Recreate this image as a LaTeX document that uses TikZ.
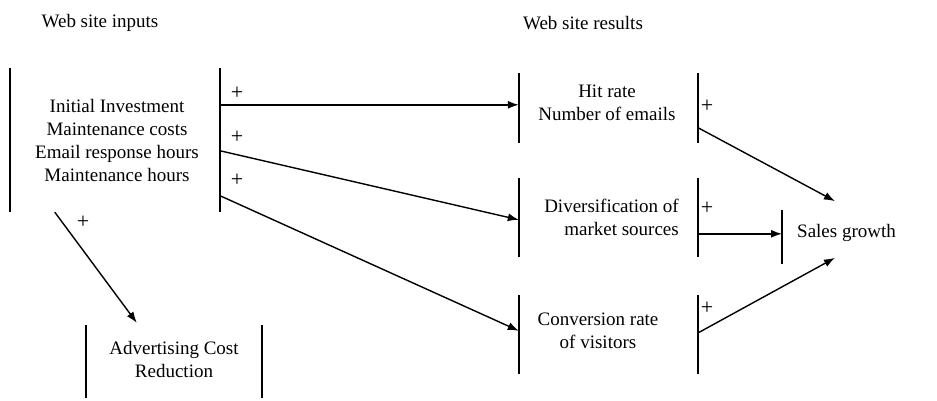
\documentclass[tikz,border=0pt]{standalone}
\usepackage{fontspec}
\setmainfont{Liberation Serif}
\usetikzlibrary{arrows.meta,calc}
\begin{document}
\begin{tikzpicture}[x=1pt,y=-1pt,
  txt/.style={inner sep=0pt,align=center,font=\fontsize{19}{23}\selectfont},
  plus/.style={inner sep=0pt,font=\fontsize{22}{24}\selectfont},
  frame/.style={draw=none,inner sep=0pt,rectangle},
  bar/.style={line width=1.9pt},
  arr/.style={line width=1.4pt,-{Latex[length=11pt,width=8pt]}}]
\useasboundingbox (0,0) rectangle (937,400);
% headings
\node[txt] (h1) at (100,23) {Web site inputs};
\node[txt] (h2) at (583,23) {Web site results};
% frames
\node[frame,minimum width=210pt,minimum height=144pt] (inF) at (115,140) {};
\node[frame,minimum width=179pt,minimum height=70pt] (hitF) at (608.5,108) {};
\node[frame,minimum width=179pt,minimum height=79pt] (divF) at (608.5,217.5) {};
\node[frame,minimum width=179pt,minimum height=79pt] (conF) at (608.5,334.5) {};
\node[frame,minimum width=176pt,minimum height=73pt] (advF) at (174,361.5) {};
\node[frame,minimum width=2pt,minimum height=54pt] (salF) at (782,237) {};
% bars
\foreach \n in {inF,hitF,divF,conF,advF}{
  \draw[bar] (\n.north west) -- (\n.south west);
  \draw[bar] (\n.north east) -- (\n.south east);
}
\draw[bar] (salF.north) -- (salF.south);
% texts
\node[txt] (in) at (117,140) {Initial Investment\\Maintenance costs\\Email response hours\\Maintenance hours};
\node[txt] (hit) at (607,102.5) {Hit rate\\Number of emails};
\node[txt,align=right,anchor=east] (div) at (679,217.5) {Diversification of\\market sources};
\node[txt] (con) at (598,331) {Conversion rate\\of visitors};
\node[txt] (adv) at (174,359) {Advertising Cost\\Reduction};
\node[txt,anchor=west] (sal) at (797,233) {Sales growth};
% plus signs
\node[plus] (p1) at (237,93) {+};
\node[plus] (p2) at (237,137) {+};
\node[plus] (p3) at (237,180) {+};
\node[plus] (p4) at (707,106) {+};
\node[plus] (p5) at (707,208) {+};
\node[plus] (p6) at (707,308) {+};
\node[plus] (p7) at (83,222) {+};
% arrows
\draw[arr] ($(inF.north east)+(0,37)$) -- ($(hitF.north west)+(0,32)$);
\draw[arr] ($(inF.north east)+(0,83)$) -- ($(divF.north west)+(0,42)$);
\draw[arr] ($(inF.north east)+(0,128)$) -- ($(conF.north west)+(0,36)$);
\draw[arr] ($(hitF.north east)+(0,55)$) -- ($(sal.north west)+(38,-23)$);
\draw[arr] ($(divF.north east)+(0,56)$) -- ($(salF.north)+(0,24)$);
\draw[arr] ($(conF.north east)+(0,38)$) -- ($(sal.south west)+(38,16)$);
\draw[arr] ($(inF.south west)+(45,0)$) -- ($(advF.north west)+(51,-2)$);
\end{tikzpicture}
\end{document}
